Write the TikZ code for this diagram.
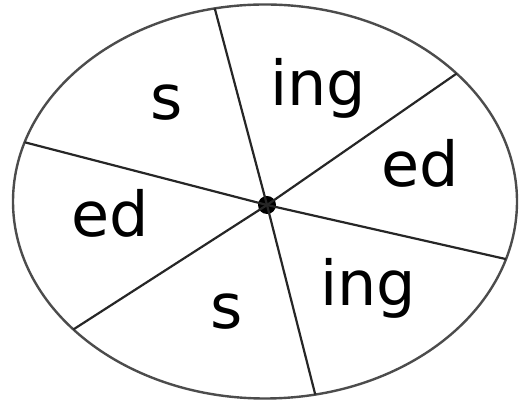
\documentclass[tikz,border=0pt]{standalone}
\usepackage{fontspec}
\setmainfont{DejaVu Sans}
\usetikzlibrary{calc}

\begin{document}
\begin{tikzpicture}[x=1pt, y=1pt,
  every node/.style={font=\fontsize{62}{64}\selectfont},
  rim/.style={draw=black!70, line width=2.4pt},
  spoke/.style={draw=black!85, line width=2.2pt}]
\useasboundingbox (0,0) rectangle (524,406);
\draw[rim] (265,204.5) ellipse (252 and 197);
\node[circle, fill=black, inner sep=0pt, minimum size=18pt] (hub) at (267,201) {};
% spoke ends on the rim
\foreach \t/\name in {101.5/top,40.5/ur,-17/rt,-78.5/bot,220.5/ll,162.5/lt}
  \coordinate (\name) at ($(265,204.5)+(\t:252 and 197)$);
\foreach \name in {top,ur,rt,bot,ll,lt}
  \draw[spoke] (hub.center) -- (\name);
% sector labels
\node (s1) at (167,303) {s};
\node (ing1) at (318,318) {ing};
\node (ed1) at (420,243) {ed};
\node (ing2) at (368,118) {ing};
\node (s2) at (227,94) {s};
\node (ed2) at (110,193) {ed};
\end{tikzpicture}
\end{document}
